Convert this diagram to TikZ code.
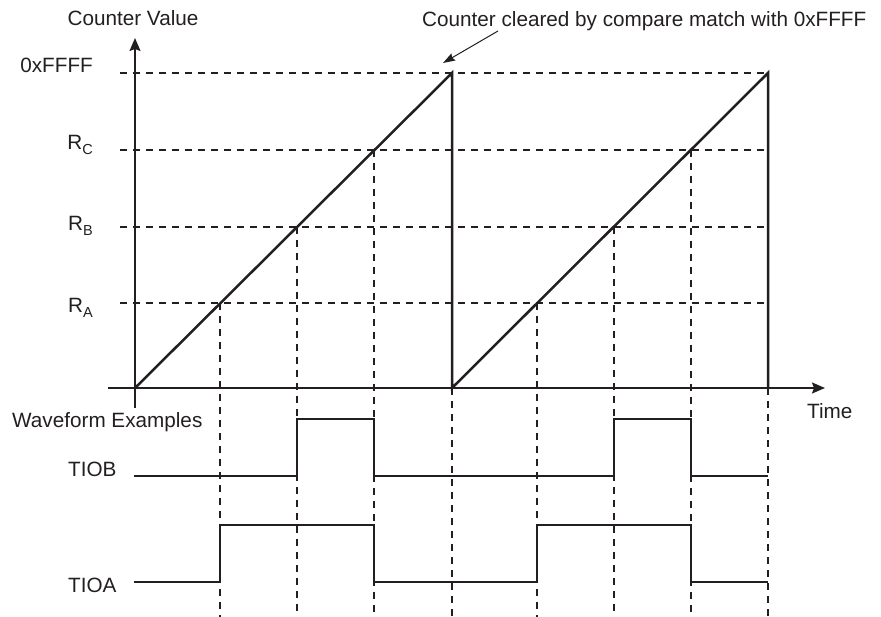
\documentclass[tikz,border=0pt]{standalone}
\usepackage{fontspec}
\setmainfont{Liberation Sans}
\usetikzlibrary{arrows.meta}
\definecolor{ink}{HTML}{231F20}
\newcommand{\lowsub}[1]{\raisebox{-5pt}{\fontsize{14.5}{14.5}\selectfont #1}}
\begin{document}
\begin{tikzpicture}[x=1pt,y=-1pt,
  font=\fontsize{20.7}{24}\selectfont,
  lbl/.style={inner sep=0pt, text=ink},
  gridline/.style={draw=ink, line width=1.1pt, dash pattern=on 7pt off 6pt},
  axis/.style={draw=ink, line width=1.4pt},
  ramp/.style={draw=ink, line width=2.5pt, line join=miter},
  wave/.style={draw=ink, line width=2.5pt, line join=miter},
  axtip/.style={-{Stealth[length=13pt,width=11pt,inset=2pt]}}]
\useasboundingbox (0,0) rectangle (881,617);

% key coordinates
\coordinate (O) at (135,388);
\coordinate (ytop) at (135,38);
\coordinate (ybot) at (135,408);
\coordinate (xleft) at (108,388);
\coordinate (xright) at (825,388);
\coordinate (top1) at (452,73);
\coordinate (zero2) at (452,388);
\coordinate (top2) at (768,73);
\coordinate (end2) at (768,388);

% dashed level lines
\foreach \n/\y in {F/73,C/150,B/227,A/303}{
  \coordinate (l\n) at (120,\y);
  \coordinate (r\n) at (768,\y);
  \draw[gridline] (l\n) -- (r\n);
}

% dashed verticals
\foreach \n/\x/\y in {a1/220/303,b1/297/227,c1/374/150,z/452/388,a2/537/303,b2/614/227,c2/691/150,e/768/388}{
  \coordinate (v\n) at (\x,\y);
  \coordinate (w\n) at (\x,617);
  \draw[gridline] (v\n) -- (w\n);
}

% axes
\draw[axis,axtip] (ybot) -- (ytop);
\draw[axis,axtip] (xleft) -- (xright);

% counter ramp
\draw[ramp] (O) -- (top1) -- (zero2) -- (top2) -- (end2);

% waveforms
\draw[wave] (134,476) -- (297,476) -- (297,419) -- (374,419) -- (374,476)
  -- (614,476) -- (614,419) -- (691,419) -- (691,476) -- (768,476);
\draw[wave] (134,582) -- (220,582) -- (220,525) -- (374,525) -- (374,582)
  -- (537,582) -- (537,525) -- (691,525) -- (691,582) -- (768,582);

% labels
\node[lbl, anchor=base] (cv) at (133,26) {Counter Value};
\node[lbl, anchor=base east] (lF) at (93,73) {0xFFFF};
\node[lbl, anchor=base east] (lRC) at (93,150) {R\lowsub{C}};
\node[lbl, anchor=base east] (lRB) at (93,231) {R\lowsub{B}};
\node[lbl, anchor=base east] (lRA) at (93,313) {R\lowsub{A}};
\node[lbl, anchor=base west] (wf) at (12,428) {Waveform Examples};
\node[lbl, anchor=base west] (tiob) at (68,476) {TIOB};
\node[lbl, anchor=base west] (tioa) at (68,592) {TIOA};
\node[lbl, anchor=base west] (time) at (807,419) {Time};
\node[lbl, anchor=base west] (note) at (422,27) {Counter cleared by compare match with 0xFFFF};

% annotation arrow
\coordinate (ns) at (498,31);
\coordinate (nt) at (443,63);
\draw[draw=ink, line width=1pt, -{Stealth[length=12pt,width=8pt,inset=1.5pt]}] (ns) -- (nt);
\end{tikzpicture}
\end{document}
